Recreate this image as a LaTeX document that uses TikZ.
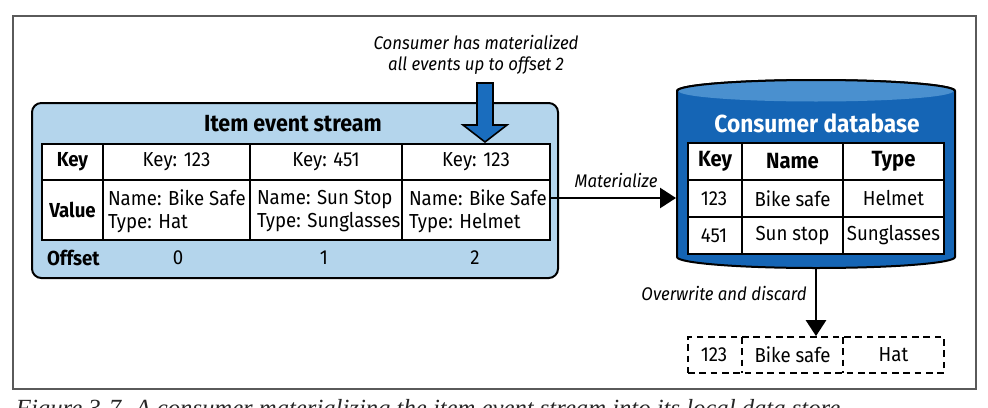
\documentclass[tikz,border=0pt]{standalone}
\usepackage{fontspec}
\setmainfont{Fira Sans}[FakeStretch=0.92,Numbers=Proportional]
\newfontfamily\capfont{Liberation Serif}
\usetikzlibrary{arrows.meta,fit,positioning}
\definecolor{streamblue}{HTML}{B4D5EC}
\definecolor{dbblue}{HTML}{1565B5}
\definecolor{dbtop}{HTML}{4A90CF}
\definecolor{arrowblue}{HTML}{1A6DBE}
\definecolor{framegray}{HTML}{5A5A5A}

\begin{document}
\begin{tikzpicture}[x=0.75pt,y=-0.75pt,line width=1.5pt,
	txt/.style={font=\fontsize{15.2}{17}\selectfont,inner sep=0},
	hd/.style={font=\bfseries\fontsize{15.2}{17}\selectfont,inner sep=0},
	note/.style={font=\itshape\fontsize{13.7}{16}\selectfont,inner sep=0,align=center},
	conn/.style={-{Triangle[length=12pt,width=15pt]},line width=2pt}]
	\clip (0,0) rectangle (988,407);
	\draw[framegray,line width=1pt] (13,16) rectangle (976,389);

	% item event stream
	\node[fit={(32,103) (558,278)},inner sep=0,draw,fill=streamblue,rounded corners=7pt] (stream) {};
	\node[hd,font=\bfseries\fontsize{17.5}{20}\selectfont] (title) at (293,124) {Item event stream};
	\node[fit={(42,144) (550,240)},inner sep=0,draw,fill=white] (tbl) {};
	\draw (42,180) -- (550,180);
	\foreach \x in {103,250,402} \draw (\x,144) -- (\x,240);
	\node[hd] (k0) at (72.5,162) {Key};
	\foreach \x/\t [count=\i] in {176.5/123,326/451,476/123}
		\node[txt] (k\i) at (\x,162) {Key: \t};
	\node[hd] (v0) at (72.5,210) {Value};
	\node[txt,align=left,anchor=west] (v1) at (107,211) {Name: Bike Safe\\Type: Hat};
	\node[txt,align=left,anchor=west] (v2) at (256,211) {Name: Sun Stop\\Type: Sunglasses};
	\node[txt,align=left,anchor=west] (v3) at (408,211) {Name: Bike Safe\\Type: Helmet};
	\node[hd,anchor=west] (off) at (46,258) {Offset};
	\foreach \x/\t in {178/0,324/1,475/2}
		\node[txt] (o\t) at (\x,258) {\t};

	% consumer position
	\node[note] (note) at (476,55) {Consumer has materialized\\all events up to offset 2};
	\filldraw[fill=arrowblue,line width=1.2pt,line join=miter]
		(477,83) -- (493,83) -- (493,125) -- (507,125) -- (485,142)
		-- (463,125) -- (477,125) -- cycle;

	% consumer database
	\filldraw[fill=dbblue] (677,91) -- (677,257) arc[start angle=180,end angle=0,x radius=139,y radius=11]
		-- (955,91) arc[start angle=0,end angle=-180,x radius=139,y radius=11] -- cycle;
	\fill[dbtop] (816,91) ellipse[x radius=137.5,y radius=10.5];
	\draw (677,91) arc[start angle=180,end angle=360,x radius=139,y radius=11];
	\node[fit={(677,80) (955,268)},inner sep=0] (db) {};
	\node[font=\bfseries\fontsize{18.5}{22}\selectfont,text=white,inner sep=0] (dbtitle) at (817,123) {Consumer database};
	\node[fit={(688,143) (944,254)},inner sep=0,draw,fill=white] (dbtbl) {};
	\foreach \y in {180,217} \draw (688,\y) -- (944,\y);
	\foreach \x in {742,843} \draw (\x,143) -- (\x,254);
	\foreach \x/\t in {715/Key,792.5/Name,893.5/Type}
		\node[hd,font=\bfseries\fontsize{16.5}{18}\selectfont] (h\t) at (\x,161.5) {\t};
	\foreach \y/\a/\b/\c [count=\r] in {198.5/123/Bike safe/Helmet,235.5/451/Sun stop/Sunglasses}{
		\node[txt] (ra\r) at (714,\y) {\a};
		\node[txt] (rb\r) at (792.5,\y) {\b};
		\node[txt] (rc\r) at (893.5,\y) {\c};
	}

	% discarded record
	\node[fit={(688,337) (944,373)},inner sep=0,draw,dashed,dash pattern=on 5pt off 3.5pt,line width=1.3pt] (disc) {};
	\draw[dashed,dash pattern=on 5pt off 3.5pt,line width=1.3pt] (742,337) -- (742,373) (843,337) -- (843,373);
	\node[txt] (da) at (714,355) {123};
	\node[txt] (db2) at (792.5,355) {Bike safe};
	\node[txt] (dc) at (893.5,355) {Hat};

	\coordinate (m) at (600,198);
	\path
	(tbl.east |- m) edge[conn] node[note,pos=0.52,above=7pt] {Materialize} (db.west |- m)
	(db.south) edge[conn] node[note,pos=0.36,left=6pt] {Overwrite and discard} (disc.north)
	;

	\node[anchor=base west,font=\capfont\itshape\fontsize{18.5}{20}\selectfont,text=black!85,inner sep=0] (cap) at (15,416)
		{Figure 3-7. A consumer materializing the item event stream into its local data store};
\end{tikzpicture}
\end{document}
